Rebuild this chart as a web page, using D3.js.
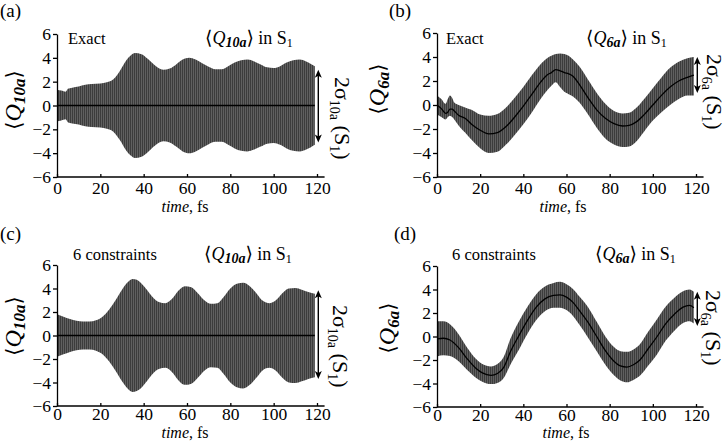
<!DOCTYPE html>
<html>
<head>
<meta charset="utf-8">
<script src="https://cdn.jsdelivr.net/npm/d3@7"></script>
<style>
  body { margin: 0; background: #fff; }
  svg { display: block; }
  text { font-family: "Liberation Serif", "DejaVu Serif", serif; fill: #000; }
</style>
</head>
<body>
<svg id="chart" width="726" height="446"></svg>
<script>
var xTicks = [0, 20, 40, 60, 80, 100, 120];
var yTicks = [-6, -4, -2, 0, 2, 4, 6];

// (a) exact, Q10a: mean is zero, band is +/- sigma
var timeA  = [0, 2, 4, 5, 7, 10, 13, 16, 20, 23, 26, 29, 32, 34, 36, 39, 42, 45, 49, 52, 55, 58, 61, 64, 67, 70, 73, 76, 79, 82, 85, 88, 91, 94, 97, 100, 103, 106, 109, 112, 115, 119];
var sigmaA = [1.33, 1.25, 1.15, 1.4, 1.5, 1.6, 1.75, 1.8, 1.85, 1.95, 2.2, 2.9, 3.8, 4.2, 4.4, 4.3, 3.9, 3.4, 3.0, 3.1, 3.45, 3.85, 4.0, 3.85, 3.55, 3.25, 3.05, 3.05, 3.3, 3.6, 3.8, 3.85, 3.7, 3.45, 3.2, 3.15, 3.3, 3.6, 3.8, 3.85, 3.7, 3.3];

// (b) exact, Q6a
var timeB  = [0, 2, 4, 5, 6, 7, 8, 10, 13, 16, 20, 24, 28, 32, 36, 40, 44, 48, 51, 53, 55, 57, 59, 61, 63, 66, 70, 74, 78, 82, 86, 89, 92, 96, 100, 104, 108, 112, 116, 119];
var meanB  = [0, -0.3, -0.7, -0.6, -0.35, -0.35, -0.5, -0.85, -1.1, -1.6, -2.1, -2.4, -2.3, -1.8, -1.0, -0.1, 0.9, 1.9, 2.5, 2.7, 2.95, 2.85, 2.7, 2.6, 2.4, 1.7, 0.6, -0.4, -1.1, -1.55, -1.75, -1.7, -1.45, -0.8, 0.0, 0.8, 1.5, 2.0, 2.3, 2.5];
var upperB = [0.8, 0.5, 0.1, 0.5, 0.8, 0.6, 0.2, 0.0, -0.2, -0.4, -0.8, -0.9, -0.75, -0.2, 0.6, 1.5, 2.5, 3.4, 3.9, 4.1, 4.25, 4.3, 4.25, 4.1, 3.8, 3.2, 2.1, 1.0, 0.1, -0.5, -0.7, -0.65, -0.3, 0.5, 1.4, 2.3, 3.1, 3.6, 3.9, 4.0];
var lowerB = [-0.8, -1.0, -1.2, -1.0, -0.9, -1.0, -1.2, -1.7, -2.3, -2.9, -3.6, -4.0, -3.9, -3.3, -2.5, -1.6, -0.6, 0.5, 1.2, 1.6, 1.9, 1.5, 1.1, 0.9, 0.7, 0.2, -0.8, -1.9, -2.8, -3.3, -3.5, -3.45, -3.1, -2.2, -1.3, -0.6, 0.0, 0.5, 0.8, 0.8];

// (c) 6 constraints, Q10a
var timeC  = [0, 3, 6, 9, 12, 15, 18, 21, 24, 27, 30, 33, 35, 38, 41, 44, 47, 50, 53, 56, 59, 62, 65, 68, 71, 74, 77, 80, 83, 86, 89, 92, 95, 98, 101, 104, 107, 110, 113, 116, 119];
var sigmaC = [1.8, 1.6, 1.4, 1.25, 1.2, 1.2, 1.3, 1.6, 2.2, 3.0, 3.9, 4.6, 4.8, 4.6, 4.0, 3.3, 2.85, 2.75, 3.1, 3.8, 4.2, 4.1, 3.6, 3.0, 2.7, 2.75, 3.3, 4.0, 4.4, 4.5, 4.2, 3.6, 2.95, 2.75, 3.0, 3.6, 4.0, 4.05, 3.9, 3.7, 3.55];

// (d) 6 constraints, Q6a
var timeD  = [0, 3, 6, 10, 14, 18, 21, 25, 28, 31, 34, 38, 42, 46, 50, 54, 57, 60, 63, 66, 70, 74, 78, 82, 85, 88, 91, 94, 98, 102, 106, 110, 114, 117, 119];
var meanD  = [-0.2, -0.15, -0.3, -0.95, -1.9, -2.7, -3.1, -3.3, -3.15, -2.6, -1.3, 0.1, 1.4, 2.5, 3.2, 3.5, 3.55, 3.35, 2.9, 2.2, 1.2, 0.0, -1.2, -2.1, -2.5, -2.6, -2.4, -2.0, -1.0, 0.0, 1.1, 1.9, 2.5, 2.65, 2.45];
var sigmaD = [1.5, 1.45, 1.35, 1.15, 0.95, 0.8, 0.75, 0.75, 0.8, 0.9, 1.1, 1.2, 1.15, 1.1, 1.05, 1.05, 1.1, 1.1, 1.15, 1.2, 1.3, 1.25, 1.2, 1.2, 1.25, 1.3, 1.3, 1.35, 1.45, 1.5, 1.45, 1.4, 1.35, 1.35, 1.35];

// double arrows marking 2 sigma at the right edge: [top, bottom]
var arrowA = [3.0, -3.1];
var arrowB = [4.0, 1.0];
var arrowC = [3.85, -3.7];
var arrowD = [3.8, 0.9];

var svg = d3.select("#chart");

var pat = svg.append("defs").append("pattern")
    .attr("id", "hatch").attr("patternUnits", "userSpaceOnUse")
    .attr("width", 2).attr("height", 4);
pat.append("rect").attr("width", 2).attr("height", 4).attr("fill", "#606060");
pat.append("rect").attr("width", 1).attr("height", 4).attr("fill", "#3c3c3c");

function zip(t, m, lo, hi) {
  return t.map(function(d, i) { return { t: d, m: m[i], lo: lo[i], hi: hi[i] }; });
}

var panels = [
  { letter: "(a)", note: "Exact", q: "10a", box: [57, 317, 34, 177],
    data: zip(timeA, timeA.map(function() { return 0; }), sigmaA.map(function(s) { return -s; }), sigmaA),
    arrow: arrowA,
    pos: { letter: [0, 17], note: [68, 44], title: [205, 44], ylab: [21, 100], xlab: [185, 212], side: [335, 77] } },
  { letter: "(b)", note: "Exact", q: "6a", box: [437, 696, 33, 177],
    data: zip(timeB, meanB, lowerB, upperB),
    arrow: arrowB,
    pos: { letter: [389, 17], note: [446, 44], title: [586, 44], ylab: [385, 89], xlab: [563, 212], side: [707, 54] } },
  { letter: "(c)", note: "6 constraints", q: "10a", box: [57, 317, 265, 406],
    data: zip(timeC, timeC.map(function() { return 0; }), sigmaC.map(function(s) { return -s; }), sigmaC),
    arrow: arrowC,
    pos: { letter: [0, 240], note: [73, 260], title: [204, 260], ylab: [21, 326], xlab: [185, 438], side: [333, 305] } },
  { letter: "(d)", note: "6 constraints", q: "6a", box: [437, 696, 266, 407],
    data: zip(timeD, meanD, meanD.map(function(m, i) { return m - sigmaD[i]; }), meanD.map(function(m, i) { return m + sigmaD[i]; })),
    arrow: arrowD,
    pos: { letter: [394, 240], note: [452, 260], title: [595, 260], ylab: [395, 328], xlab: [566, 438], side: [706, 290] } }
];

function minus(d) { return d < 0 ? "\u2212" + (-d) : String(d); }

panels.forEach(function(p, k) {
  var x = d3.scaleLinear().domain([0, 120]).range([p.box[0], p.box[1]]);
  var y = d3.scaleLinear().domain([-6, 6]).range([p.box[3], p.box[2]]);
  var g = svg.append("g");

  // band
  g.append("path").datum(p.data)
    .attr("fill", "url(#hatch)")
    .attr("d", d3.area().curve(d3.curveMonotoneX)
      .x(function(d) { return x(d.t); })
      .y0(function(d) { return y(d.lo); })
      .y1(function(d) { return y(d.hi); }));

  // mean
  g.append("path").datum(p.data)
    .attr("fill", "none").attr("stroke", "#000").attr("stroke-width", 1.3)
    .attr("d", d3.line().curve(d3.curveMonotoneX)
      .x(function(d) { return x(d.t); })
      .y(function(d) { return y(d.m); }));

  // axes
  var ya = g.append("g").attr("transform", "translate(" + x(0) + ",0)")
    .call(d3.axisLeft(y).tickValues(yTicks).tickSize(4).tickSizeOuter(0).tickPadding(2).tickFormat(minus));
  var xa = g.append("g").attr("transform", "translate(0," + y(-6) + ")")
    .call(d3.axisBottom(x).tickValues(xTicks).tickSize(-3).tickSizeOuter(0).tickPadding(k < 2 ? 5 : 2).tickFormat(minus));
  xa.select(".domain").remove();
  xa.append("line").attr("x1", x(0)).attr("x2", x(123.5))
    .attr("stroke", "#000").attr("stroke-width", 1.3);
  [ya, xa].forEach(function(a) {
    a.attr("font-family", "Liberation Serif").attr("font-size", 17.5);
    a.selectAll(".domain, line").attr("stroke", "#000").attr("stroke-width", 1.3);
    a.selectAll("text").attr("fill", "#000");
  });
  xa.selectAll(".tick text").attr("dy", "0.7em");

  // 2 sigma arrow
  var ax = x(120.6), ay1 = y(p.arrow[0]), ay2 = y(p.arrow[1]);
  g.append("line").attr("x1", ax).attr("x2", ax).attr("y1", ay1 + 5).attr("y2", ay2 - 5)
    .attr("stroke", "#000").attr("stroke-width", 1.4);
  g.append("path").attr("fill", "#000")
    .attr("d", "M" + ax + "," + ay1 + "l-3.5,8l3.5,-2l3.5,2z");
  g.append("path").attr("fill", "#000")
    .attr("d", "M" + ax + "," + ay2 + "l-3.5,-8l3.5,2l3.5,-2z");

  // panel letter
  g.append("text").attr("x", p.pos.letter[0]).attr("y", p.pos.letter[1])
    .attr("font-size", 19).text(p.letter);

  // note (Exact / 6 constraints)
  g.append("text").attr("x", p.pos.note[0]).attr("y", p.pos.note[1])
    .attr("font-size", 16.5).text(p.note);

  // title <Q> in S1
  var t = g.append("text").attr("x", p.pos.title[0]).attr("y", p.pos.title[1]).attr("font-size", 18);
  t.append("tspan").style("font-family", "'DejaVu Serif', serif").attr("font-size", 19).text("\u27E8");
  t.append("tspan").attr("font-style", "italic").text("Q");
  t.append("tspan").attr("font-size", 14).attr("font-weight", "bold").attr("font-style", "italic")
    .attr("dy", 3).text(p.q);
  t.append("tspan").attr("dy", -3).style("font-family", "'DejaVu Serif', serif").attr("font-size", 19).text("\u27E9");
  t.append("tspan").text(" in S");
  t.append("tspan").attr("font-size", 12).attr("dy", 3).text("1");

  // y label
  var yl = g.append("text")
    .attr("transform", "translate(" + p.pos.ylab[0] + "," + p.pos.ylab[1] + ") rotate(-90)")
    .attr("text-anchor", "middle").attr("font-size", 24);
  yl.append("tspan").style("font-family", "'DejaVu Serif', serif").attr("font-size", 21).text("\u27E8");
  yl.append("tspan").attr("font-style", "italic").text("Q");
  yl.append("tspan").attr("font-size", 17).attr("font-weight", "bold").attr("font-style", "italic")
    .attr("dy", 4).text(p.q);
  yl.append("tspan").attr("dy", -4).style("font-family", "'DejaVu Serif', serif").attr("font-size", 21).text("\u27E9");

  // x label
  var xl = g.append("text").attr("x", p.pos.xlab[0]).attr("y", p.pos.xlab[1])
    .attr("text-anchor", "middle").attr("font-size", 16);
  xl.append("tspan").attr("font-style", "italic").text("time");
  xl.append("tspan").text(", fs");

  // side label 2 sigma (S1)
  var sl = g.append("text")
    .attr("transform", "translate(" + p.pos.side[0] + "," + p.pos.side[1] + ") rotate(90)")
    .attr("font-size", 22);
  sl.append("tspan").text("2\u03C3");
  sl.append("tspan").attr("font-size", 14).attr("dy", 5).text(p.q);
  sl.append("tspan").attr("dy", -5).text(" (S");
  sl.append("tspan").attr("font-size", 14).attr("dy", 5).text("1");
  sl.append("tspan").attr("dy", -5).text(")");
});
</script>
</body>
</html>
